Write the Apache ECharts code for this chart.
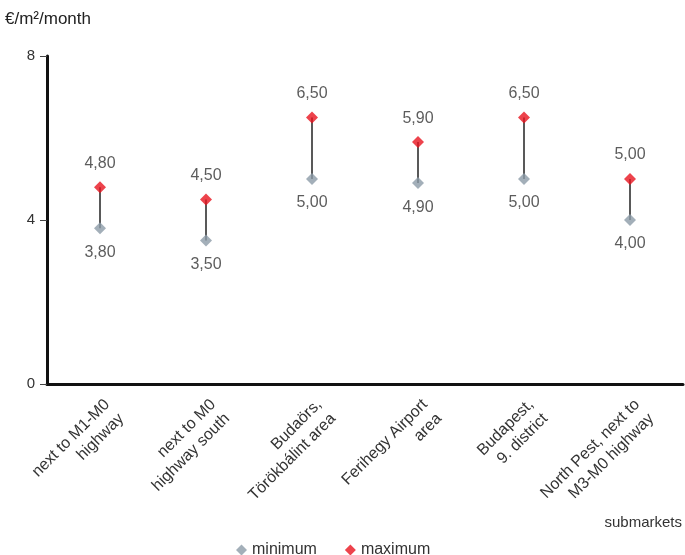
<!DOCTYPE html>
<html>
<head>
<meta charset="utf-8">
<script src="https://cdn.jsdelivr.net/npm/echarts@6/dist/echarts.min.js"></script>
<style>html,body{margin:0;padding:0;background:#fff}#c{width:685px;height:555px}</style>
</head>
<body>
<div id="c"></div>
<script>
const categories = [
  "next to M1-M0\nhighway",
  "next to M0\nhighway south",
  "Budaörs,\nTörökbálint area",
  "Ferihegy Airport\narea",
  "Budapest,\n9. district",
  "North Pest, next to\nM3-M0 highway"
];
const minimum = [3.8, 3.5, 5.0, 4.9, 5.0, 4.0];
const maximum = [4.8, 4.5, 6.5, 5.9, 6.5, 5.0];
const yTicks = [0, 4, 8];

const FONT = "'Liberation Sans',Arial,sans-serif";
const fmt = v => v.toFixed(2).replace('.', ',');

const chart = echarts.init(document.getElementById('c'));
chart.setOption({
  animation: false,
  textStyle: { fontFamily: FONT },
  grid: { left: 47, right: 2, top: 56, bottom: 171 },
  xAxis: {
    type: 'category',
    data: categories,
    boundaryGap: true,
    axisLine: { lineStyle: { color: '#111', width: 3 } },
    axisTick: { show: false },
    axisLabel: {
      interval: 0, rotate: 45, fontSize: 16, lineHeight: 20,
      color: '#333', fontFamily: FONT, margin: 11, align: 'right',
      verticalAlign: 'top'
    }
  },
  yAxis: {
    type: 'value', min: yTicks[0], max: yTicks[yTicks.length - 1], interval: 4,
    splitLine: { show: false },
    axisLine: { show: true, lineStyle: { color: '#111', width: 3 } },
    axisTick: { show: true, length: 7, lineStyle: { color: '#444', width: 1 } },
    axisLabel: { fontSize: 15, color: '#333', fontFamily: FONT, margin: 12 }
  },
  legend: {
    left: 231, top: 537,
    itemWidth: 11, itemHeight: 11, itemGap: 28,
    textStyle: { fontSize: 16, color: '#333', fontFamily: FONT },
    data: [
      { name: 'minimum', icon: 'diamond' },
      { name: 'maximum', icon: 'diamond' }
    ]
  },
  graphic: [
    { type: 'text', left: 5, top: 11, style: { text: '€/m²/month', fontSize: 17, fill: '#222', fontFamily: FONT } },
    { type: 'text', right: 3, top: 515, style: { text: 'submarkets', fontSize: 15, fill: '#333', fontFamily: FONT } }
  ],
  series: [
    {
      type: 'custom',
      name: 'range',
      silent: true,
      data: minimum.map((v, i) => [i, v, maximum[i]]),
      renderItem: function (params, api) {
        const p1 = api.coord([api.value(0), api.value(1)]);
        const p2 = api.coord([api.value(0), api.value(2)]);
        return {
          type: 'line',
          shape: { x1: p1[0], y1: p1[1], x2: p2[0], y2: p2[1] },
          style: { stroke: '#222', lineWidth: 1.5 }
        };
      },
      z: 1
    },
    {
      type: 'scatter', name: 'minimum', data: minimum,
      symbol: 'diamond', symbolSize: 12,
      itemStyle: { color: '#8c9ba8' },
      label: { show: true, position: 'bottom', distance: 10, fontSize: 16, color: '#333', fontFamily: FONT,
        formatter: p => fmt(p.value) },
      z: 3
    },
    {
      type: 'scatter', name: 'maximum', data: maximum,
      symbol: 'diamond', symbolSize: 12,
      itemStyle: { color: '#e8141f' },
      label: { show: true, position: 'top', distance: 10, fontSize: 16, color: '#333', fontFamily: FONT,
        formatter: p => fmt(p.value) },
      z: 3
    }
  ]
});
</script>
</body>
</html>
